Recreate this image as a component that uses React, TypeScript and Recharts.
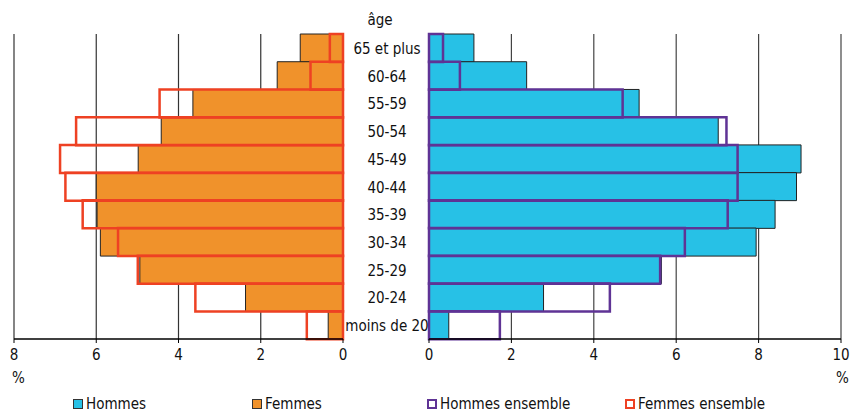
import { BarChart, Bar, XAxis, YAxis, CartesianGrid } from "recharts";

const ages = ["65 et plus", "60-64", "55-59", "50-54", "45-49", "40-44", "35-39", "30-34", "25-29", "20-24", "moins de 20"];
const femmes = [1.04, 1.6, 3.65, 4.42, 4.98, 6.0, 5.98, 5.9, 4.94, 2.37, 0.36];
const femmesEnsemble = [0.32, 0.79, 4.46, 6.49, 6.88, 6.75, 6.33, 5.47, 4.99, 3.59, 0.88];
const hommes = [1.09, 2.37, 5.1, 7.02, 9.03, 8.92, 8.4, 7.94, 5.64, 2.78, 0.48];
const hommesEnsemble = [0.34, 0.75, 4.7, 7.22, 7.49, 7.49, 7.25, 6.21, 5.61, 4.39, 1.72];
const leftTicks = [0, 2, 4, 6, 8];
const rightTicks = [0, 2, 4, 6, 8, 10];
const rowTicks = [0, 1, 2, 3, 4, 5, 6, 7, 8, 9, 10, 11];

const FONT = "'DejaVu Sans Condensed', 'Liberation Sans Narrow', Roboto, sans-serif";
const ORANGE = "#f0922b";
const RED = "#ee4123";
const CYAN = "#27c1e6";
const PURPLE = "#5f3395";

const data = ages.map((age, i) => ({
  age,
  femmes: femmes[i],
  femmesEnsemble: femmesEnsemble[i],
  hommes: hommes[i],
  hommesEnsemble: hommesEnsemble[i],
}));

const tickStyle = { fontFamily: FONT, fontSize: 15, fill: "#111" };

const AgeTick = (props: any) => {
  const { x, y, payload } = props;
  return (
    <text x={x - 34} y={y + 1} textAnchor="middle" dominantBaseline="central" style={tickStyle}>
      {payload.value}
    </text>
  );
};

const ValueTick = (props: any) => {
  const { x, y, payload } = props;
  return (
    <text x={x} y={y + 4} textAnchor="middle" dominantBaseline="hanging" style={tickStyle}>
      {payload.value}
    </text>
  );
};

const legend = [
  { name: "Hommes", fill: CYAN, border: "#333", bw: 1, left: 73 },
  { name: "Femmes", fill: ORANGE, border: "#333", bw: 1, left: 252 },
  { name: "Hommes ensemble", fill: "#fff", border: PURPLE, bw: 2.5, left: 427 },
  { name: "Femmes ensemble", fill: "#fff", border: RED, bw: 2.5, left: 625 },
];

export default function App() {
  return (
    <div style={{ position: "absolute", left: 0, top: 0, width: 861, height: 412, background: "#fff", fontFamily: FONT, overflow: "hidden" }}>
      <div style={{ position: "absolute", left: 0, top: 0 }}>
        <BarChart
          width={350}
          height={412}
          data={data}
          layout="vertical"
          barCategoryGap={0}
          margin={{ top: 34, right: 7, left: 14, bottom: 43 }}
        >
          <CartesianGrid horizontal={false} stroke="#333" strokeWidth={1.2} />
          <XAxis
            type="number"
            domain={[0, 8]}
            ticks={leftTicks}
            reversed
            height={30}
            tickSize={4}
            axisLine={{ stroke: "#000", strokeWidth: 1.5 }}
            tickLine={{ stroke: "#000" }}
            tick={<ValueTick />}
          />
          <XAxis xAxisId="top" orientation="top" type="number" domain={[0, 8]} reversed height={0} tick={false} tickLine={false} axisLine={{ stroke: "#000", strokeWidth: 1.5 }} />
          <YAxis yAxisId="a" type="category" dataKey="age" hide />
          <YAxis yAxisId="b" type="category" dataKey="age" hide />
          <Bar yAxisId="a" dataKey="femmes" fill={ORANGE} stroke="#222" strokeWidth={1} isAnimationActive={false} />
          <Bar yAxisId="b" dataKey="femmesEnsemble" fill="none" stroke={RED} strokeWidth={2.5} isAnimationActive={false} />
        </BarChart>
      </div>
      <div style={{ position: "absolute", left: 330, top: 0 }}>
        <BarChart
          width={531}
          height={412}
          data={data}
          layout="vertical"
          barCategoryGap={0}
          margin={{ top: 34, right: 20, left: 0, bottom: 43 }}
        >
          <CartesianGrid horizontal={false} stroke="#444" strokeWidth={1.2} />
          <XAxis
            type="number"
            domain={[0, 10]}
            ticks={rightTicks}
            height={30}
            tickSize={4}
            axisLine={{ stroke: "#000", strokeWidth: 1.5 }}
            tickLine={{ stroke: "#000" }}
            tick={<ValueTick />}
          />
          <XAxis xAxisId="top" orientation="top" type="number" domain={[0, 10]} height={0} tick={false} tickLine={false} axisLine={{ stroke: "#000", strokeWidth: 1.5 }} />
          <YAxis
            yAxisId="tk"
            type="number"
            domain={[0, 11]}
            ticks={rowTicks}
            width={0}
            tickSize={3}
            tickFormatter={() => ""}
            axisLine={{ stroke: "#000", strokeWidth: 1.5 }}
            tickLine={{ stroke: "#000" }}
          />
          <YAxis yAxisId="a" type="category" dataKey="age" width={99} axisLine={false} tickLine={false} tick={<AgeTick />} interval={0} />
          <YAxis yAxisId="b" type="category" dataKey="age" hide />
          <Bar yAxisId="a" dataKey="hommes" fill={CYAN} stroke="#222" strokeWidth={1} isAnimationActive={false} />
          <Bar yAxisId="b" dataKey="hommesEnsemble" fill="none" stroke={PURPLE} strokeWidth={2.5} isAnimationActive={false} />
        </BarChart>
      </div>
      <div style={{ position: "absolute", left: 362, top: 11, width: 36, textAlign: "center", fontSize: 15, color: "#111" }}>âge</div>
      <div style={{ position: "absolute", left: 12, top: 369, fontSize: 15, color: "#111" }}>%</div>
      <div style={{ position: "absolute", left: 836, top: 369, fontSize: 15, color: "#111" }}>%</div>
      {legend.map((l) => (
        <div key={l.name} style={{ position: "absolute", left: l.left, top: 395, height: 18, lineHeight: "18px", display: "flex", alignItems: "center", fontSize: 15, color: "#111", whiteSpace: "nowrap" }}>
          <span style={{ display: "inline-block", width: 10, height: 10, boxSizing: "border-box", background: l.fill, border: `${l.bw}px solid ${l.border}`, marginRight: 3 }} />
          <span>{l.name}</span>
        </div>
      ))}
    </div>
  );
}
